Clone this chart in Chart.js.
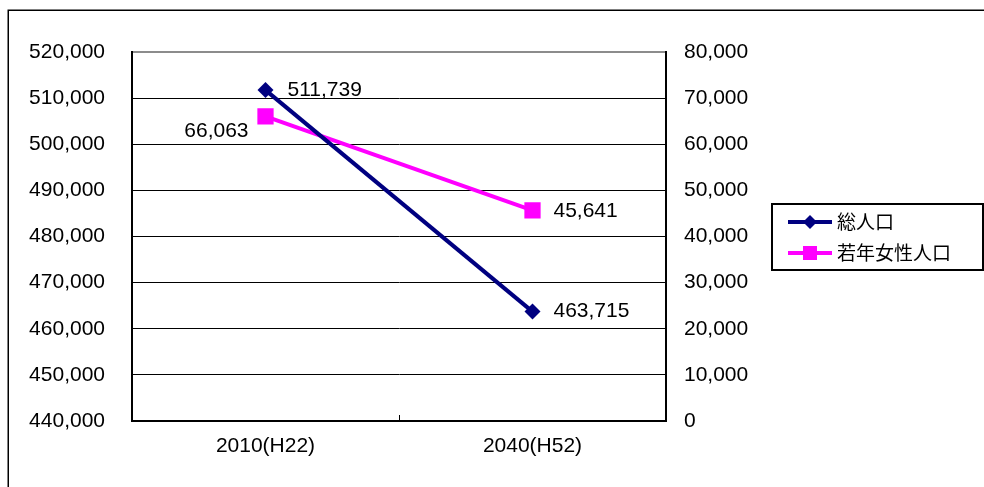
<!DOCTYPE html>
<html>
<head>
<meta charset="utf-8">
<script src="https://cdn.jsdelivr.net/npm/chart.js@4/dist/chart.umd.min.js"></script>
<style>
  html, body { margin: 0; padding: 0; background: #fff; }
  #wrap { width: 984px; height: 487px; position: relative; }
</style>
</head>
<body>
<div id="wrap"><canvas id="c" width="984" height="487"></canvas></div>
<script>
// Categories and series
const categories = ['2010(H22)', '2040(H52)'];
const totalPopulation = [511739, 463715];   // 総人口 (left axis)
const youngWomen = [66063, 45641];          // 若年女性人口 (right axis)

// Axis ranges
const leftAxis = { min: 440000, max: 520000, step: 10000 };
const rightAxis = { min: 0, max: 80000, step: 10000 };

const NUM_FONT = '"Liberation Sans", Arial, sans-serif';
const JP_FONT = '"Noto Sans CJK JP", sans-serif';
const fmt = v => Number(v).toLocaleString('en-US');

// Where each value label sits relative to its point: [dx, dy, align]
const labelPlacement = [
  [[22, 0, 'left'], [21, 0, 'left']],
  [[-17, 15, 'right'], [21, 1, 'left']]
];

const frame = {
  id: 'frame',
  beforeDraw(chart) {
    const ctx = chart.ctx;
    ctx.save();
    ctx.fillStyle = '#fff';
    ctx.fillRect(0, 0, chart.width, chart.height);
    ctx.strokeStyle = '#000';
    ctx.lineWidth = 1.5;
    ctx.strokeRect(8.25, 10.25, 1200, 1200);
    ctx.restore();
  }
};

const midTick = {
  id: 'midTick',
  afterDraw(chart) {
    const x = chart.scales.x;
    const ctx = chart.ctx;
    const px = (x.getPixelForValue(0) + x.getPixelForValue(1)) / 2;
    ctx.save();
    ctx.strokeStyle = '#000';
    ctx.lineWidth = 1;
    ctx.beginPath();
    ctx.moveTo(Math.round(px) + 0.5, x.top - 6);
    ctx.lineTo(Math.round(px) + 0.5, x.top);
    ctx.stroke();
    ctx.restore();
  }
};

const valueLabels = {
  id: 'valueLabels',
  afterDatasetsDraw(chart) {
    const ctx = chart.ctx;
    ctx.save();
    ctx.font = '21px ' + NUM_FONT;
    ctx.fillStyle = '#000';
    ctx.textBaseline = 'middle';
    chart.data.datasets.forEach((ds, di) => {
      const meta = chart.getDatasetMeta(di);
      meta.data.forEach((pt, i) => {
        const [dx, dy, align] = labelPlacement[di][i];
        ctx.textAlign = align;
        ctx.fillText(fmt(ds.data[i]), pt.x + dx, pt.y + dy);
      });
    });
    ctx.restore();
  }
};

const boxLegend = {
  id: 'boxLegend',
  afterDraw(chart) {
    const ctx = chart.ctx;
    const bx = 772, by = 204, bw = 211, bh = 66;
    ctx.save();
    ctx.strokeStyle = '#000';
    ctx.lineWidth = 2;
    ctx.strokeRect(bx, by, bw, bh);
    const rows = [222, 253];
    chart.data.datasets.forEach((ds, i) => {
      const y = rows[i];
      ctx.strokeStyle = ds.borderColor;
      ctx.lineWidth = 4;
      ctx.beginPath();
      ctx.moveTo(788, y);
      ctx.lineTo(832, y);
      ctx.stroke();
      ctx.fillStyle = ds.borderColor;
      if (ds.pointStyle === 'rectRot') {
        ctx.beginPath();
        ctx.moveTo(810, y - 7); ctx.lineTo(817, y); ctx.lineTo(810, y + 7); ctx.lineTo(803, y);
        ctx.closePath(); ctx.fill();
      } else {
        ctx.fillRect(803, y - 7, 14, 14);
      }
      ctx.fillStyle = '#000';
      ctx.font = '19px ' + JP_FONT;
      ctx.textAlign = 'left';
      ctx.textBaseline = 'middle';
      ctx.fillText(ds.label, 837, y);
    });
    ctx.restore();
  }
};

new Chart(document.getElementById('c'), {
  type: 'line',
  data: {
    labels: categories,
    datasets: [
      {
        label: '総人口',
        data: totalPopulation,
        yAxisID: 'y',
        borderColor: '#000080',
        backgroundColor: '#000080',
        borderWidth: 4,
        pointStyle: 'rectRot',
        pointRadius: 8,
        pointBorderWidth: 0,
        tension: 0
      },
      {
        label: '若年女性人口',
        data: youngWomen,
        yAxisID: 'y1',
        borderColor: '#FF00FF',
        backgroundColor: '#FF00FF',
        borderWidth: 4,
        pointStyle: 'rect',
        pointRadius: 11.5,
        pointBorderWidth: 0,
        tension: 0
      }
    ]
  },
  options: {
    responsive: false,
    animation: false,
    devicePixelRatio: 1,
    layout: { padding: { top: 52, left: 0, right: 0, bottom: 0 } },
    plugins: {
      legend: { display: false },
      tooltip: { enabled: false },
      title: { display: false }
    },
    scales: {
      x: {
        type: 'category',
        offset: true,
        grid: { drawOnChartArea: false, drawTicks: false },
        border: { display: true, color: '#000', width: 2 },
        ticks: { color: '#000', font: { size: 21, family: NUM_FONT }, padding: 13, maxRotation: 0 },
        afterFit(s) { s.height = 66; }
      },
      y: {
        position: 'left',
        min: leftAxis.min,
        max: leftAxis.max,
        ticks: {
          stepSize: leftAxis.step,
          color: '#000',
          font: { size: 21, family: NUM_FONT },
          padding: 27,
          callback: v => fmt(v)
        },
        grid: {
          drawTicks: false,
          color: c => (c.tick && c.tick.value === leftAxis.max) ? '#8c8c8c' : '#000',
          lineWidth: c => (c.tick && c.tick.value === leftAxis.max) ? 2 : 1
        },
        border: { display: true, color: '#000', width: 2 },
        afterFit(s) { s.width = 132; }
      },
      y1: {
        position: 'right',
        min: rightAxis.min,
        max: rightAxis.max,
        ticks: {
          stepSize: rightAxis.step,
          color: '#000',
          font: { size: 21, family: NUM_FONT },
          padding: 18,
          callback: v => fmt(v)
        },
        grid: { drawOnChartArea: false, drawTicks: false },
        border: { display: true, color: '#000', width: 2 },
        afterFit(s) { s.width = 318; }
      }
    }
  },
  plugins: [frame, midTick, valueLabels, boxLegend]
});
</script>
</body>
</html>
